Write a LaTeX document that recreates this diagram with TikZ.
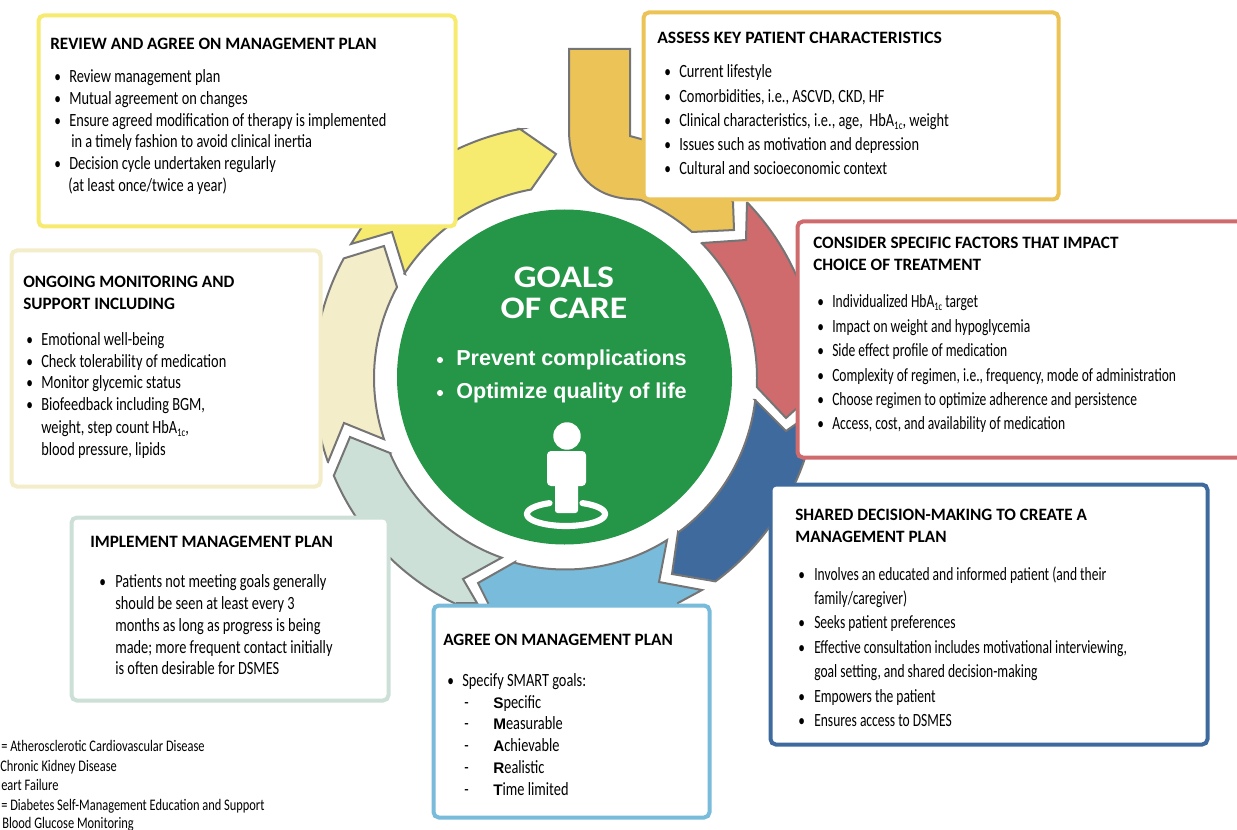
\documentclass[tikz,border=0pt]{standalone}
\usepackage{fontspec}
\usepackage{graphicx}
\setmainfont{Carlito}[FakeStretch=0.77]
\newfontfamily\nrw{Carlito}[FakeStretch=0.725]
\newfontfamily\hdfont{Carlito}[FakeStretch=0.99,UprightFont=* Bold]
\newfontfamily\hdwide{Carlito}[FakeStretch=1.02,UprightFont=* Bold]
\newfontfamily\goalfont{Carlito}[FakeStretch=1.14,UprightFont=* Bold]
\newfontfamily\arfont{Liberation Sans}[UprightFont=* Bold]
\definecolor{cyellow}{HTML}{F6EB6F}
\definecolor{cgold}{HTML}{ECC357}
\definecolor{cred}{HTML}{CF6B6D}
\definecolor{cblue}{HTML}{3F6A9E}
\definecolor{clblue}{HTML}{79BBDA}
\definecolor{clgreen}{HTML}{CCE0D7}
\definecolor{ccream}{HTML}{F4EDC9}
\definecolor{cgreen}{HTML}{259547}
\definecolor{cstroke}{HTML}{757575}
\tikzset{
  seg/.style={draw=cstroke,line width=1.5pt,line join=miter,fill=#1},
  cardbox/.style={draw=#1,line width=3pt,fill=white,rounded corners=4pt,anchor=north west,inner sep=0pt,outer sep=0pt},
  body/.style={anchor=base west,inner sep=0pt,yshift=-1pt,font=\fontsize{14}{16}\selectfont,text=black},
  head/.style={anchor=base west,inner sep=0pt,yshift=-0.75pt,font=\fontsize{13}{15}\hdfont,text=black},
  foot/.style={anchor=base west,inner sep=0pt,font=\fontsize{12.1}{14}\selectfont,text=black},
  inwhite/.style={anchor=base,inner sep=0pt,text=white},
  rng/.style n args={3}{insert path={-- plot[domain=#2:#3,samples=50] ({565+#1*cos(\x)},{378+#1*sin(\x)})}},
}
\newcounter{ln}
\newcommand{\hl}[3]{\stepcounter{ln}\node[head] (ln\theln) at (#1,#2) {#3};}
\newcommand{\tl}[3]{\stepcounter{ln}\node[body] (ln\theln) at (#1,#2) {#3};}
\newcommand{\itm}[4]{\stepcounter{ln}\node[body] (ln\theln) at (#1,#2) {\fontsize{13}{15}\selectfont •};\stepcounter{ln}\node[body] (ln\theln) at (#3,#2) {#4};}
\newcommand{\fl}[3]{\stepcounter{ln}\node[foot] (ln\theln) at (#1,#2) {#3};}
\newcommand{\hba}{HbA\raisebox{-0.35ex}{\scalebox{.62}{1c}}}
\newcommand{\sm}[1]{{\arfont\fontsize{11.5}{14}\selectfont #1}}
\begin{document}
\begin{tikzpicture}[x=0.75pt,y=-0.75pt]
\useasboundingbox (0,0) rectangle (1237,830);
% ring segments
\path[seg=cyellow] (405,274) [rng={191.5}{213}{259.8}] -- (556,154) -- (520,129) [rng={253}{259.8}{216.2}] -- (351,244) -- (392,232) -- cycle;
\path[seg=cgold] (569,49) -- (630,49) -- (630,136) -- (641,139) -- (700,160) -- (733,202) -- (734,230) -- (692,232) [rng={193.5}{311}{293}] -- (630,199) .. controls (595,197) and (569,175) .. (569,130) -- cycle;
\path[seg=cred] (747,202) -- (746,240) -- (702,243) [rng={192}{315.4}{362.7}] -- (786,418) -- (830,378) [rng={253}{360}{316}] -- cycle;
\path[seg=cblue] (755,400) -- (786,431) -- (830,400) [rng={253}{5}{53.5}] -- (672,574) -- (678,532) [rng={191.5}{53.7}{6.6}] -- cycle;
\path[seg=clblue] (515,562) [rng={191.5}{105.2}{57.8}] -- (659,582) -- (702,590) -- (678,603) -- (670,640) -- (500,640) -- (488,603) -- (478,583) -- cycle;
\path[seg=clgreen] (390,453) [rng={190.5}{156.8}{109.4}] -- (463,579) -- (477,603) -- (457,603) [rng={251}{115.6}{157.1}] -- (350,437) -- cycle;
\path[seg=ccream] (384,246) -- (397,287) [rng={191}{208.4}{161.3}] -- (344,423) -- (328,462) [rng={251.5}{160.5}{208.4}] -- cycle;
% cards
\node[cardbox=cyellow,minimum width=417pt*0.75,minimum height=211pt*0.75] (cardA) at (38.5,15.5) {};
\node[cardbox=cgold,minimum width=415pt*0.75,minimum height=187pt*0.75] (cardB) at (643.5,12.5) {};
\node[cardbox=cred,minimum width=450pt*0.75,minimum height=236pt*0.75] (cardC) at (797.5,221.5) {};
\node[cardbox=cblue,minimum width=437pt*0.75,minimum height=260pt*0.75] (cardD) at (770.5,484.5) {};
\node[cardbox=clblue,minimum width=276pt*0.75,minimum height=212pt*0.75] (cardE) at (433.5,605.5) {};
\node[cardbox=clgreen,minimum width=317pt*0.75,minimum height=183pt*0.75] (cardF) at (71.5,517.5) {};
\node[cardbox=ccream,minimum width=309pt*0.75,minimum height=236pt*0.75] (cardG) at (11.5,250.5) {};
% centre
\node[circle,fill=cgreen,minimum size=335pt*0.75,inner sep=0pt] (goal) at (564.5,377) {};
\node[inwhite,font=\fontsize{23.5}{26}\goalfont] (goalA) at (564,287) {GOALS};
\node[inwhite,font=\fontsize{23.5}{26}\goalfont] (goalB) at (564,319) {OF CARE};
\node[inwhite,font=\fontsize{16.2}{20}\arfont,anchor=base west] (goalC) at (456,365) {Prevent complications};
\node[inwhite,font=\fontsize{16.2}{20}\arfont,anchor=base west] (goalD) at (456,398) {Optimize quality of life};
\fill[white] (440,360) circle [radius=2.3pt];
\fill[white] (440,393) circle [radius=2.3pt];
% person
\fill[white] (567,436) circle [radius=10.3pt];
\fill[white,rounded corners=3pt] (547,451) rectangle (586,486);
\fill[white,rounded corners=2pt] (555,480) rectangle (578,513);
\draw[white,line width=4.6pt,line cap=round] plot[domain=-65:245,samples=60] ({566+39*cos(\x)},{514+12*sin(\x)});
% yellow text
\hl{50}{49}{REVIEW AND AGREE ON MANAGEMENT PLAN}
\itm{54}{81}{69}{Review management plan}
\itm{54}{103}{69}{Mutual agreement on changes}
\itm{54}{125}{69}{Ensure agreed modification of therapy is implemented}
\tl{71}{146}{in a timely fashion to avoid clinical inertia}
\itm{54}{168}{69}{Decision cycle undertaken regularly}
\tl{68}{190}{(at least once/twice a year)}
% gold text
\hl{657}{43}{\hdwide ASSESS KEY PATIENT CHARACTERISTICS}
\itm{664}{76}{679}{Current lifestyle}
\itm{664}{101}{679}{Comorbidities, i.e., ASCVD, CKD, HF}
\itm{664}{125}{679}{Clinical characteristics, i.e., age,\ \ \hba, weight}
\itm{664}{149}{679}{Issues such as motivation and depression}
\itm{664}{173}{679}{Cultural and socioeconomic context}
% red text
\hl{813}{248}{CONSIDER SPECIFIC FACTORS THAT IMPACT}
\hl{813}{270}{CHOICE OF TREATMENT}
\itm{817}{306}{832}{\nrw Individualized \hba\ target}
\itm{817}{331}{832}{\nrw Impact on weight and hypoglycemia}
\itm{817}{355}{832}{\nrw Side effect profile of medication}
\itm{817}{380}{832}{\nrw Complexity of regimen, i.e., frequency, mode of administration}
\itm{817}{404}{832}{\nrw Choose regimen to optimize adherence and persistence}
\itm{817}{428}{832}{\nrw Access, cost, and availability of medication}
% blue text
\hl{795}{519}{SHARED DECISION-MAKING TO CREATE A}
\hl{795}{541}{MANAGEMENT PLAN}
\itm{798}{579}{814}{\nrw Involves an educated and informed patient (and their}
\tl{814}{603}{\nrw family/caregiver)}
\itm{798}{627}{814}{\nrw Seeks patient preferences}
\itm{798}{652}{814}{\nrw Effective consultation includes motivational interviewing,}
\tl{814}{676}{\nrw goal setting, and shared decision-making}
\itm{798}{701}{814}{\nrw Empowers the patient}
\itm{798}{725}{814}{\nrw Ensures access to DSMES}
% light blue text
\hl{443}{644}{AGREE ON MANAGEMENT PLAN}
\itm{447}{685}{462}{Specify SMART goals:}
\tl{464}{707}{-}\tl{493}{707}{\sm{S}pecific}
\tl{464}{728}{-}\tl{493}{728}{\sm{M}easurable}
\tl{464}{750}{-}\tl{493}{750}{\sm{A}chievable}
\tl{464}{772}{-}\tl{493}{772}{\sm{R}ealistic}
\tl{464}{794}{-}\tl{493}{794}{\sm{T}ime limited}
% light green text
\hl{90}{546}{IMPLEMENT MANAGEMENT PLAN}
\itm{99}{586}{115}{Patients not meeting goals generally}
\tl{115}{608}{should be seen at least every 3}
\tl{115}{630}{months as long as progress is being}
\tl{115}{652}{made; more frequent contact initially}
\tl{115}{673}{is often desirable for DSMES}
% cream text
\hl{23}{287}{ONGOING MONITORING AND}
\hl{23}{309}{SUPPORT INCLUDING}
\itm{26}{344}{41}{Emotional well-being}
\itm{26}{366}{41}{Check tolerability of medication}
\itm{26}{387}{41}{Monitor glycemic status}
\itm{26}{409}{41}{Biofeedback including BGM,}
\tl{41}{432}{weight, step count \hba,}
\tl{41}{454}{blood pressure, lipids}
% footnote
\fl{1}{751}{= Atherosclerotic Cardiovascular Disease}
\fl{0}{771}{Chronic Kidney Disease}
\fl{1}{790}{eart Failure}
\fl{1}{810}{= Diabetes Self-Management Education and Support}
\fl{2}{828}{Blood Glucose Monitoring}
\end{tikzpicture}
\end{document}
